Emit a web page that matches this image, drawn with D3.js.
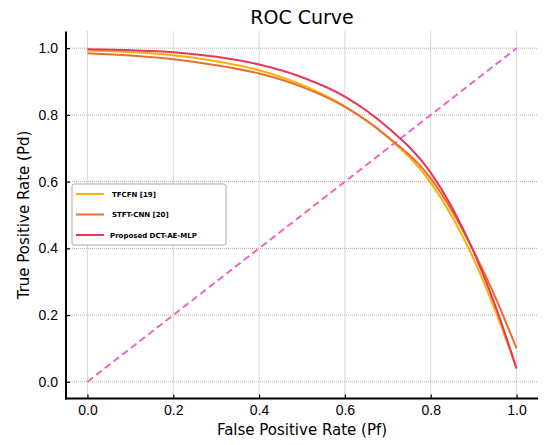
<!DOCTYPE html>
<html>
<head>
<meta charset="utf-8">
<script src="https://cdn.jsdelivr.net/npm/d3@7"></script>
<style>
  body { margin: 0; background: #fff; }
  svg { font-family: "DejaVu Sans", sans-serif; }
  .grid line { stroke: #a8a8a8; stroke-width: 0.9; stroke-dasharray: 1,1; }
  .tick text { font-size: 14px; fill: #000; }
  .tick line { stroke: #000; stroke-width: 1.2; }
</style>
</head>
<body>
<div class="app"></div>
<script>
'use strict'

var width = 546;
var height = 445;

// FPR sampling points
var fpr = [0, 0.1, 0.2, 0.3, 0.4, 0.5, 0.6, 0.7, 0.8, 0.9, 0.95, 1.0];

// TPR values
var tfcfn   = [0.993, 0.988, 0.979, 0.961, 0.934, 0.890, 0.826, 0.733, 0.597, 0.368, 0.215, 0.040];
var stftCnn = [0.985, 0.978, 0.967, 0.949, 0.924, 0.884, 0.824, 0.734, 0.610, 0.392, 0.255, 0.100];
var proposed = [0.997, 0.994, 0.988, 0.974, 0.951, 0.913, 0.855, 0.762, 0.627, 0.390, 0.230, 0.040];

var seriesNames = ["TFCFN [19]", "STFT-CNN [20]", "Proposed DCT-AE-MLP"];
var seriesColors = ["#ffb000", "#ea6f2f", "#e8365a"];
var seriesValues = [tfcfn, stftCnn, proposed];

var diagonal = [0, 1];
var ticks = [0, 0.2, 0.4, 0.6, 0.8, 1.0];

var plotLeft = 66, plotRight = 538, plotTop = 31.5, plotBottom = 398.5;

var svg = d3.select(".app")
            .append("svg")
            .attr("width", width)
            .attr("height", height);

var scaleX = d3.scaleLinear().domain([-0.05, 1.05]).range([plotLeft, plotRight]);
var scaleY = d3.scaleLinear().domain([-0.05, 1.05]).range([plotBottom, plotTop]);

// grid
var grid = svg.append("g").attr("class", "grid");
grid.selectAll("line.gx").data(ticks).enter().append("line")
    .attr("class", "gx")
    .attr("x1", function(d){ return scaleX(d); })
    .attr("x2", function(d){ return scaleX(d); })
    .attr("y1", plotTop).attr("y2", plotBottom);
grid.selectAll("line.gy").data(ticks).enter().append("line")
    .attr("class", "gy")
    .attr("y1", function(d){ return scaleY(d); })
    .attr("y2", function(d){ return scaleY(d); })
    .attr("x1", plotLeft).attr("x2", plotRight);

// diagonal
var line = d3.line()
             .x(function(d){ return scaleX(d[0]); })
             .y(function(d){ return scaleY(d[1]); });

svg.append("path")
   .attr("d", line(diagonal.map(function(v){ return [v, v]; })))
   .attr("fill", "none")
   .attr("stroke", "#f062c0")
   .attr("stroke-width", 2)
   .attr("stroke-dasharray", "7,4");

var curve = d3.line()
              .curve(d3.curveMonotoneX)
              .x(function(d){ return scaleX(d[0]); })
              .y(function(d){ return scaleY(d[1]); });

seriesValues.forEach(function(vals, i) {
  svg.append("path")
     .attr("d", curve(fpr.map(function(x, j){ return [x, vals[j]]; })))
     .attr("fill", "none")
     .attr("stroke", seriesColors[i])
     .attr("stroke-width", 2);
});

// axes (ticks inward)
var xAxis = d3.axisBottom(scaleX).tickValues(ticks).tickFormat(d3.format(".1f"))
              .tickSizeInner(-4).tickSizeOuter(0).tickPadding(7);
var yAxis = d3.axisLeft(scaleY).tickValues(ticks).tickFormat(d3.format(".1f"))
              .tickSizeInner(-4).tickSizeOuter(0).tickPadding(8);

var gx = svg.append("g").attr("transform", "translate(0," + plotBottom + ")").call(xAxis);
var gy = svg.append("g").attr("transform", "translate(" + plotLeft + ",0)").call(yAxis);
gx.select(".domain").remove();
gy.select(".domain").remove();

// spines
svg.append("line").attr("x1", plotLeft).attr("x2", plotLeft).attr("y1", plotTop).attr("y2", plotBottom + 1)
   .attr("stroke", "#000").attr("stroke-width", 2);
svg.append("line").attr("x1", plotLeft - 1).attr("x2", plotRight).attr("y1", plotBottom).attr("y2", plotBottom)
   .attr("stroke", "#000").attr("stroke-width", 2);

// title and labels
svg.append("text")
   .attr("x", (plotLeft + plotRight) / 2).attr("y", 24)
   .attr("text-anchor", "middle")
   .style("font-size", "19px")
   .text("ROC Curve");

svg.append("text")
   .attr("x", (plotLeft + plotRight) / 2).attr("y", 435)
   .attr("text-anchor", "middle")
   .style("font-size", "15px")
   .text("False Positive Rate (Pf)");

svg.append("text")
   .attr("transform", "translate(29," + ((plotTop + plotBottom) / 2) + ") rotate(-90)")
   .attr("text-anchor", "middle")
   .style("font-size", "15px")
   .text("True Positive Rate (Pd)");

// legend
var lg = svg.append("g").attr("transform", "translate(72,184)");
lg.append("rect")
  .attr("width", 154).attr("height", 61).attr("rx", 2)
  .attr("fill", "#fff").attr("stroke", "#aaa").attr("stroke-width", 1);
seriesNames.forEach(function(name, i) {
  var yy = 10 + i * 20.5;
  lg.append("line").attr("x1", 4).attr("x2", 32).attr("y1", yy).attr("y2", yy)
    .attr("stroke", seriesColors[i]).attr("stroke-width", 2);
  lg.append("text").attr("x", i === 2 ? 38 : 40).attr("y", yy + 2.5)
    .style("font-size", "7px").style("font-weight", "bold")
    .text(name);
});
</script>
</body>
</html>
